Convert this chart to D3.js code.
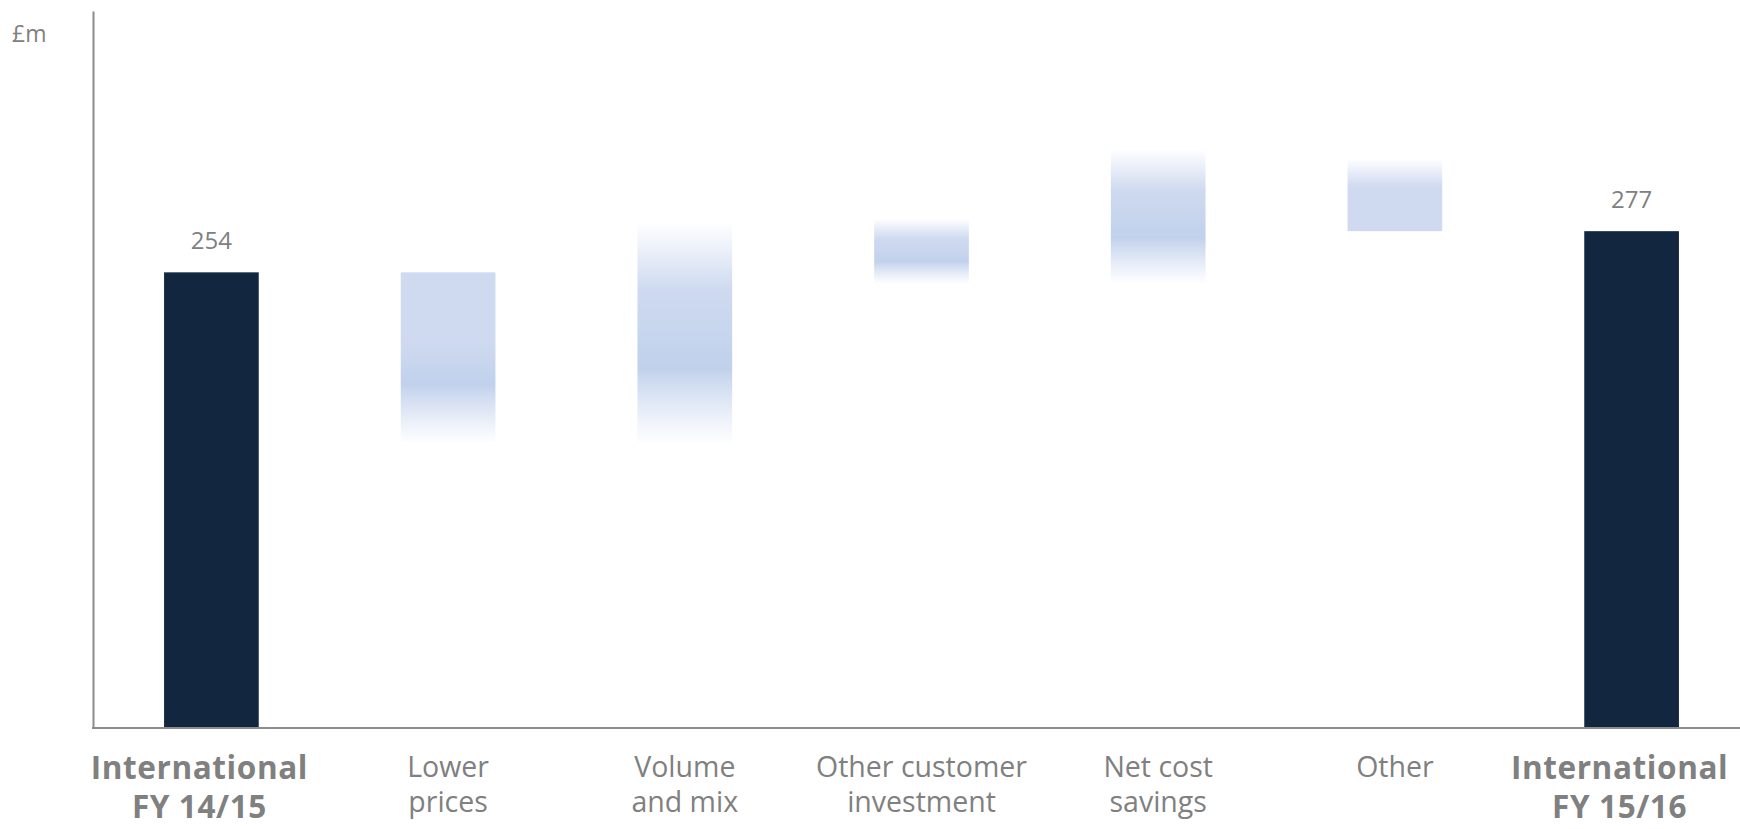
<!DOCTYPE html>
<html>
<head>
<meta charset="utf-8">
<script src="https://cdn.jsdelivr.net/npm/d3@7"></script>
<style>
  html, body { margin: 0; padding: 0; background: #ffffff; }
  svg { display: block; }
  text { font-family: "Open Sans", "Noto Sans", sans-serif; }
</style>
</head>
<body>
<svg id="chart" width="1740" height="829"></svg>
<script>
// ---- Data (£m) ----
const categoryLines = [
  ["International", "FY 14/15"],
  ["Lower", "prices"],
  ["Volume", "and mix"],
  ["Other customer", "investment"],
  ["Net cost", "savings"],
  ["Other"],
  ["International", "FY 15/16"]
];
const totalIndex = [0, 6];
const totalValues = [254, 277];
// Bridge steps between the two totals: where each movement starts and ends
const stepStart = [254, 159, 283.5, 248, 317];
const stepEnd   = [159, 281, 248, 322, 277];
const unitLabel = "£m";

// ---- Layout ----
const W = 1740, H = 829;
const axisX = 93, baseY = 727, topY = 11;
const navy = "#12263f";
const blueLight = "#cfdaf0";
const bluePeak = "#c1d1ec";
const grey = "#808080";

const svg = d3.select("#chart");
const defs = svg.append("defs");

const ids = categoryLines.map((d, i) => i);
const x = d3.scaleBand()
  .domain(ids)
  .range([axisX + 1, 1749])
  .paddingInner(0.6)
  .paddingOuter(0.296);

const y = d3.scaleLinear().domain([0, 400]).range([baseY, topY]);

// Totals (solid navy bars)
const totals = totalIndex.map((idx, k) => ({ idx, value: totalValues[k] }));
svg.append("g").selectAll("rect")
  .data(totals)
  .join("rect")
  .attr("x", d => x(d.idx))
  .attr("width", x.bandwidth())
  .attr("y", d => y(d.value))
  .attr("height", d => y(0) - y(d.value))
  .attr("fill", navy);

svg.append("g").selectAll("text")
  .data(totals)
  .join("text")
  .attr("x", d => x(d.idx) + x.bandwidth() / 2)
  .attr("y", d => y(d.value) - 23)
  .attr("text-anchor", "middle")
  .attr("font-size", 24)
  .attr("fill", grey)
  .text(d => d.value);

// Bridge steps: soft gradient bars, sharp only where they meet a total
const steps = stepStart.map((s, i) => ({
  idx: i + 1,
  from: s,
  to: stepEnd[i],
  hi: Math.max(s, stepEnd[i]),
  lo: Math.min(s, stepEnd[i]),
  sharpStart: i === 0,
  sharpEnd: i === stepStart.length - 1
}));

steps.forEach((d, i) => {
  // which visual edge (top/bottom) is attached to a total bar
  const sharpTop = (d.sharpStart && d.from === d.hi) || (d.sharpEnd && d.to === d.hi);
  const sharpBottom = (d.sharpStart && d.from === d.lo) || (d.sharpEnd && d.to === d.lo);
  let stops;
  if (sharpBottom) {
    stops = [[0, blueLight, 0.04], [0.38, blueLight, 1], [1, blueLight, 1]];
  } else if (sharpTop) {
    stops = [[0, blueLight, 1], [0.4, blueLight, 1], [0.66, bluePeak, 1], [1, blueLight, 0.04]];
  } else {
    stops = [[0, blueLight, 0.04], [0.3, blueLight, 1], [0.66, bluePeak, 1], [1, blueLight, 0.04]];
  }
  const g = defs.append("linearGradient")
    .attr("id", "step-grad-" + i)
    .attr("x1", 0).attr("y1", 0).attr("x2", 0).attr("y2", 1);
  g.selectAll("stop").data(stops).join("stop")
    .attr("offset", s => s[0])
    .attr("stop-color", s => s[1])
    .attr("stop-opacity", s => s[2]);
});

svg.append("g").selectAll("rect")
  .data(steps)
  .join("rect")
  .attr("x", d => x(d.idx))
  .attr("width", x.bandwidth())
  .attr("y", d => y(d.hi))
  .attr("height", d => y(d.lo) - y(d.hi))
  .attr("fill", (d, i) => "url(#step-grad-" + i + ")");

// Axes: plain vertical and baseline rules
const yAxis = d3.axisLeft(y).tickValues([]).tickSizeOuter(0);
svg.append("g")
  .attr("transform", `translate(${axisX},0)`)
  .call(yAxis)
  .call(g => g.select(".domain").attr("stroke", "#8c8c8c").attr("stroke-width", 2));

svg.append("line")
  .attr("x1", axisX - 1).attr("x2", W)
  .attr("y1", y(0) + 1).attr("y2", y(0) + 1)
  .attr("stroke", "#8c8c8c").attr("stroke-width", 2);

// Unit label
svg.append("text")
  .attr("x", 12).attr("y", 42)
  .attr("font-size", 23)
  .attr("fill", grey)
  .text(unitLabel);

// Category labels, one text element per line
const labelLines = [];
categoryLines.forEach((lines, i) => {
  const total = totalIndex.includes(i);
  lines.forEach((t, k) => labelLines.push({ t, k, i, total }));
});

svg.append("g").selectAll("text")
  .data(labelLines)
  .join("text")
  .attr("text-anchor", "middle")
  .attr("fill", grey)
  .attr("font-size", d => d.total ? 31.5 : 28.5)
  .attr("font-weight", d => d.total ? 700 : 400)
  .attr("letter-spacing", d => d.total ? 0.6 : 0)
  .attr("x", d => x(d.i) + x.bandwidth() / 2 - (d.total ? 12 : 0))
  .attr("y", d => d.total ? 779 + d.k * 39 : 777 + d.k * 34.5)
  .text(d => d.t);
</script>
</body>
</html>
